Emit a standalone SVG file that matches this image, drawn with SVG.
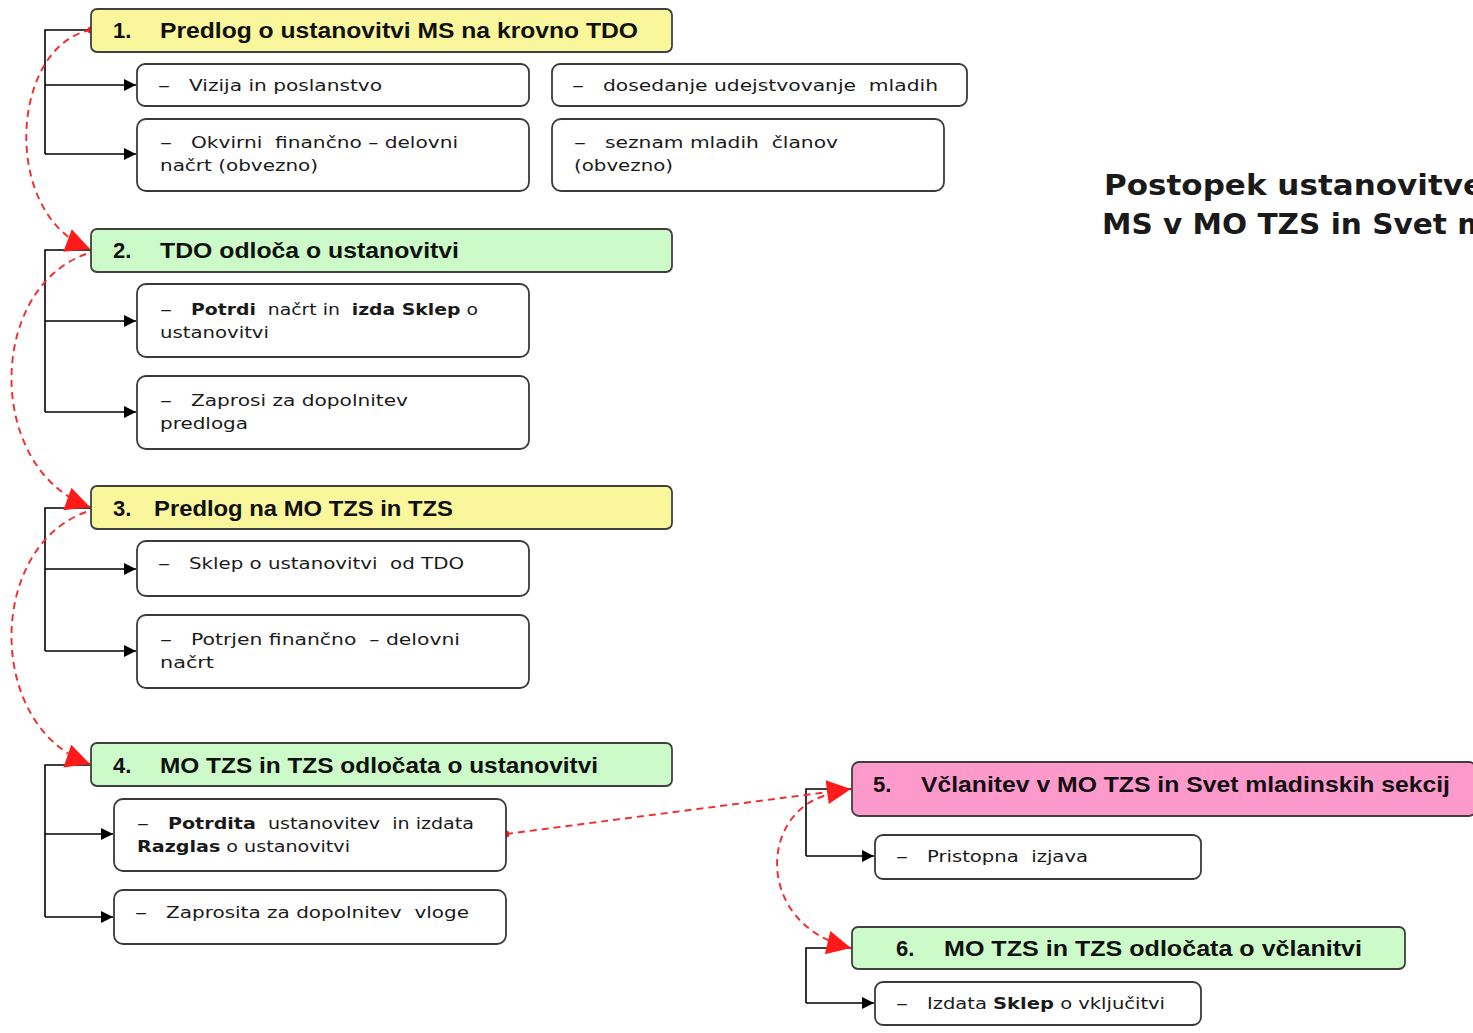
<svg xmlns="http://www.w3.org/2000/svg" width="1473" height="1033" viewBox="0 0 1473 1033">
<style>
.hdr{stroke:#404040;stroke-width:1.8}
.yel{fill:#f9f69b}
.grn{fill:#ccfac8}
.pnk{fill:#fe99cc}
.sub{fill:#ffffff;stroke:#3a3a3a;stroke-width:1.8}
.ht{font-family:"Liberation Sans",Arial,sans-serif;font-weight:bold;font-size:22px;fill:#111}
.st{font-family:"DejaVu Sans",Verdana,sans-serif;font-size:16px;fill:#1a1a1a}
.b{font-weight:bold}
.title{font-family:"DejaVu Sans",Verdana,sans-serif;font-weight:bold;font-size:29px;fill:#1a1a1a}
.blk{fill:none;stroke:#000;stroke-width:1.6}
.red{fill:none;stroke:#f52a2a;stroke-width:1.9;stroke-dasharray:7 5}
</style>
<defs>
<marker id="ab" viewBox="0 0 10 10" refX="10" refY="5" markerWidth="13" markerHeight="12" markerUnits="userSpaceOnUse" orient="auto"><path d="M0,0 L10,5 L0,10 Z" fill="#000"/></marker>
<marker id="ar" viewBox="0 0 10 10" refX="10" refY="5" markerWidth="30" markerHeight="24" markerUnits="userSpaceOnUse" orient="auto"><path d="M0,0 L10,5 L0,10 Z" fill="#ff1a1a"/></marker>
</defs>

<g id="title">
<text class="title" x="1104" y="195" textLength="380" lengthAdjust="spacingAndGlyphs">Postopek ustanovitve</text>
<text class="title" x="1102" y="234" textLength="386" lengthAdjust="spacingAndGlyphs">MS v MO TZS in Svet m</text>
</g>

<g id="connectors">
<path class="blk" d="M91,30 H45 V154"/>
<path class="blk" d="M45,85 H136" marker-end="url(#ab)"/>
<path class="blk" d="M45,154 H136" marker-end="url(#ab)"/>
<path class="blk" d="M91,250 H45 V412"/>
<path class="blk" d="M45,321 H136" marker-end="url(#ab)"/>
<path class="blk" d="M45,412 H136" marker-end="url(#ab)"/>
<path class="blk" d="M91,508 H45 V651"/>
<path class="blk" d="M45,569 H136" marker-end="url(#ab)"/>
<path class="blk" d="M45,651 H136" marker-end="url(#ab)"/>
<path class="blk" d="M91,765 H45 V917"/>
<path class="blk" d="M45,834 H113" marker-end="url(#ab)"/>
<path class="blk" d="M45,917 H113" marker-end="url(#ab)"/>
<path class="blk" d="M852,789 H806 V856"/>
<path class="blk" d="M806,856 H874" marker-end="url(#ab)"/>
<path class="blk" d="M852,948 H806 V1003"/>
<path class="blk" d="M806,1003 H874" marker-end="url(#ab)"/>

<path class="red" d="M91,30 C10,45 0,215 90,249" marker-end="url(#ar)"/>
<path class="red" d="M86,254 C-14,290 -14,470 90,507" marker-end="url(#ar)"/>
<path class="red" d="M86,512 C-14,548 -14,728 90,764" marker-end="url(#ar)"/>
<path class="red" d="M506,834 L851,789" marker-end="url(#ar)"/>
<path class="red" d="M836,793 C758,805 752,925 851,948" marker-end="url(#ar)"/>
<circle cx="91" cy="30" r="3.5" fill="#ff1a1a"/>
<circle cx="506" cy="834" r="3.5" fill="#ff1a1a"/>
</g>

<g id="n1">
<rect class="hdr yel" x="91" y="9" width="581" height="43" rx="6"/>
<text class="ht" x="113" y="38">1.</text>
<text class="ht" x="160" y="38" textLength="478" lengthAdjust="spacingAndGlyphs">Predlog o ustanovitvi MS na krovno TDO</text>
</g>
<g id="n1a">
<rect class="sub" x="137" y="64" width="392" height="42" rx="8"/>
<text class="st" x="158" y="91" textLength="12" lengthAdjust="spacingAndGlyphs">–</text>
<text class="st" x="189" y="91" textLength="193" lengthAdjust="spacingAndGlyphs">Vizija in poslanstvo</text>
</g>
<g id="n1b">
<rect class="sub" x="137" y="119" width="392" height="72" rx="9"/>
<text class="st" x="160" y="148" textLength="12" lengthAdjust="spacingAndGlyphs">–</text>
<text class="st" x="191" y="148" textLength="267" lengthAdjust="spacingAndGlyphs">Okvirni&#160; finančno – delovni</text>
<text class="st" x="160" y="171" textLength="158" lengthAdjust="spacingAndGlyphs">načrt (obvezno)</text>
</g>
<g id="n1c">
<rect class="sub" x="552" y="64" width="415" height="42" rx="8"/>
<text class="st" x="572" y="91" textLength="12" lengthAdjust="spacingAndGlyphs">–</text>
<text class="st" x="603" y="91" textLength="335" lengthAdjust="spacingAndGlyphs">dosedanje udejstvovanje&#160; mladih</text>
</g>
<g id="n1d">
<rect class="sub" x="552" y="119" width="392" height="72" rx="9"/>
<text class="st" x="574" y="148" textLength="12" lengthAdjust="spacingAndGlyphs">–</text>
<text class="st" x="605" y="148" textLength="233" lengthAdjust="spacingAndGlyphs">seznam mladih&#160; članov</text>
<text class="st" x="574" y="171" textLength="99" lengthAdjust="spacingAndGlyphs">(obvezno)</text>
</g>

<g id="n2">
<rect class="hdr grn" x="91" y="229" width="581" height="43" rx="6"/>
<text class="ht" x="113" y="258">2.</text>
<text class="ht" x="160" y="258" textLength="299" lengthAdjust="spacingAndGlyphs">TDO odloča o ustanovitvi</text>
</g>
<g id="n2a">
<rect class="sub" x="137" y="284" width="392" height="73" rx="9"/>
<text class="st" x="160" y="315" textLength="12" lengthAdjust="spacingAndGlyphs">–</text>
<text class="st" x="191" y="315" textLength="287" lengthAdjust="spacingAndGlyphs"><tspan class="b">Potrdi</tspan>&#160; načrt in&#160; <tspan class="b">izda Sklep</tspan> o</text>
<text class="st" x="160" y="338" textLength="109" lengthAdjust="spacingAndGlyphs">ustanovitvi</text>
</g>
<g id="n2b">
<rect class="sub" x="137" y="376" width="392" height="73" rx="9"/>
<text class="st" x="160" y="406" textLength="12" lengthAdjust="spacingAndGlyphs">–</text>
<text class="st" x="191" y="406" textLength="217" lengthAdjust="spacingAndGlyphs">Zaprosi za dopolnitev</text>
<text class="st" x="160" y="429" textLength="88" lengthAdjust="spacingAndGlyphs">predloga</text>
</g>

<g id="n3">
<rect class="hdr yel" x="91" y="486" width="581" height="43" rx="6"/>
<text class="ht" x="113" y="516">3.</text>
<text class="ht" x="154" y="516" textLength="299" lengthAdjust="spacingAndGlyphs">Predlog na MO TZS in TZS</text>
</g>
<g id="n3a">
<rect class="sub" x="137" y="541" width="392" height="55" rx="9"/>
<text class="st" x="158" y="569" textLength="12" lengthAdjust="spacingAndGlyphs">–</text>
<text class="st" x="189" y="569" textLength="275" lengthAdjust="spacingAndGlyphs">Sklep o ustanovitvi&#160; od TDO</text>
</g>
<g id="n3b">
<rect class="sub" x="137" y="615" width="392" height="73" rx="9"/>
<text class="st" x="160" y="645" textLength="12" lengthAdjust="spacingAndGlyphs">–</text>
<text class="st" x="191" y="645" textLength="269" lengthAdjust="spacingAndGlyphs">Potrjen finančno&#160; – delovni</text>
<text class="st" x="160" y="668" textLength="54" lengthAdjust="spacingAndGlyphs">načrt</text>
</g>

<g id="n4">
<rect class="hdr grn" x="91" y="743" width="581" height="43" rx="6"/>
<text class="ht" x="113" y="773">4.</text>
<text class="ht" x="160" y="773" textLength="438" lengthAdjust="spacingAndGlyphs">MO TZS in TZS odločata o ustanovitvi</text>
</g>
<g id="n4a">
<rect class="sub" x="114" y="799" width="392" height="72" rx="9"/>
<text class="st" x="137" y="829" textLength="12" lengthAdjust="spacingAndGlyphs">–</text>
<text class="st" x="168" y="829" textLength="306" lengthAdjust="spacingAndGlyphs"><tspan class="b">Potrdita</tspan>&#160; ustanovitev&#160; in izdata</text>
<text class="st" x="137" y="852" textLength="213" lengthAdjust="spacingAndGlyphs"><tspan class="b">Razglas</tspan> o ustanovitvi</text>
</g>
<g id="n4b">
<rect class="sub" x="114" y="890" width="392" height="54" rx="9"/>
<text class="st" x="135" y="918" textLength="12" lengthAdjust="spacingAndGlyphs">–</text>
<text class="st" x="166" y="918" textLength="303" lengthAdjust="spacingAndGlyphs">Zaprosita za dopolnitev&#160; vloge</text>
</g>

<g id="n5">
<rect class="hdr pnk" x="852" y="762" width="624" height="54" rx="7"/>
<text class="ht" x="873" y="792">5.</text>
<text class="ht" x="921" y="792" textLength="529" lengthAdjust="spacingAndGlyphs">Včlanitev v MO TZS in Svet mladinskih sekcij</text>
</g>
<g id="n5a">
<rect class="sub" x="875" y="835" width="326" height="44" rx="8"/>
<text class="st" x="896" y="862" textLength="12" lengthAdjust="spacingAndGlyphs">–</text>
<text class="st" x="927" y="862" textLength="161" lengthAdjust="spacingAndGlyphs">Pristopna&#160; izjava</text>
</g>

<g id="n6">
<rect class="hdr grn" x="852" y="927" width="553" height="42" rx="6"/>
<text class="ht" x="896" y="956">6.</text>
<text class="ht" x="944" y="956" textLength="418" lengthAdjust="spacingAndGlyphs">MO TZS in TZS odločata o včlanitvi</text>
</g>
<g id="n6a">
<rect class="sub" x="875" y="982" width="326" height="43" rx="8"/>
<text class="st" x="896" y="1009" textLength="12" lengthAdjust="spacingAndGlyphs">–</text>
<text class="st" x="927" y="1009" textLength="238" lengthAdjust="spacingAndGlyphs">Izdata <tspan class="b">Sklep</tspan> o vključitvi</text>
</g>
</svg>
